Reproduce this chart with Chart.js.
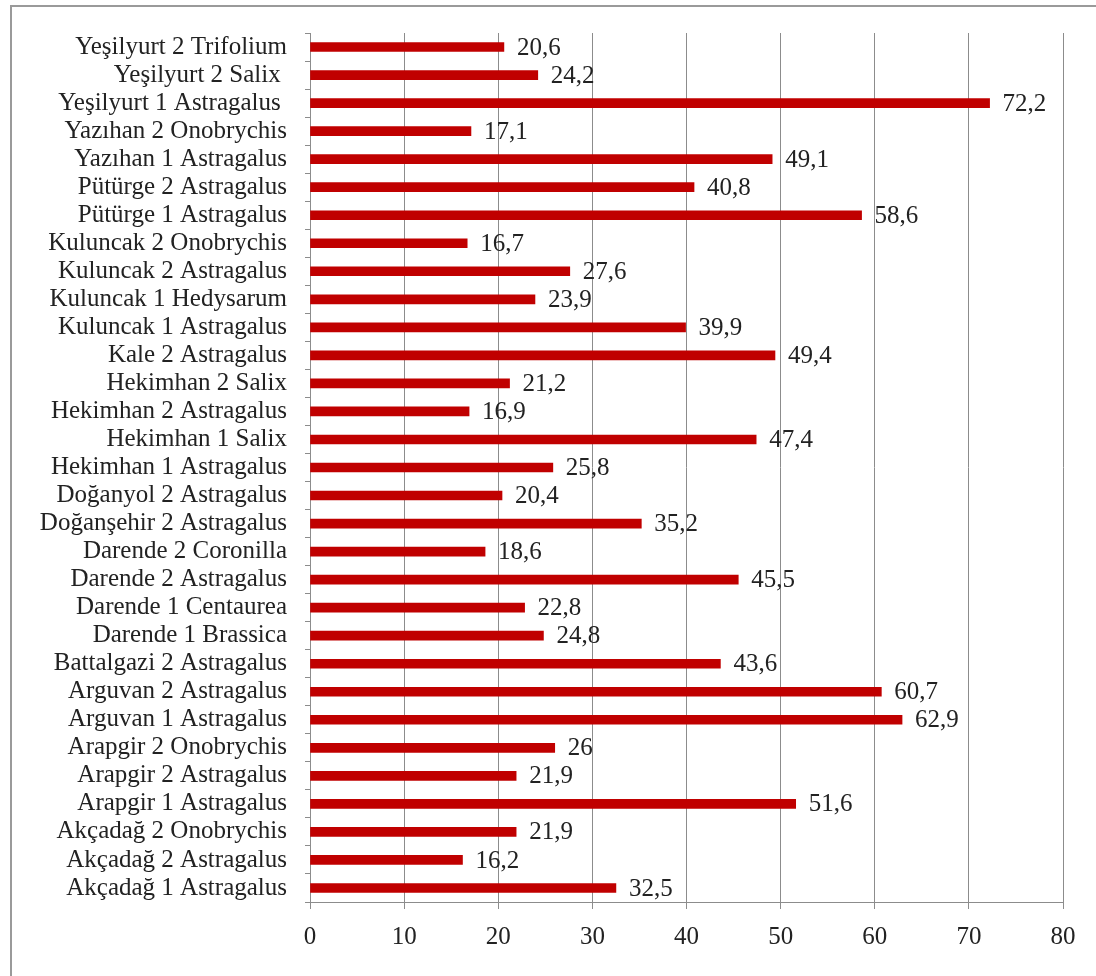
<!DOCTYPE html>
<html>
<head>
<meta charset="utf-8">
<script src="https://cdn.jsdelivr.net/npm/chart.js@4.4.1/dist/chart.umd.min.js"></script>
<style>
  html, body { margin: 0; padding: 0; background: #fff; }
  canvas { display: block; }
</style>
</head>
<body>
<canvas id="grafico" width="1096" height="976"></canvas>
<script>
// lokasyon + bitki, yukaridan asagiya
const lokasyonlar = [
    'Yeşilyurt 2 Trifolium', 'Yeşilyurt 2 Salix ', 'Yeşilyurt 1 Astragalus ',
    'Yazıhan 2 Onobrychis', 'Yazıhan 1 Astragalus', 'Pütürge 2 Astragalus',
    'Pütürge 1 Astragalus', 'Kuluncak 2 Onobrychis', 'Kuluncak 2 Astragalus',
    'Kuluncak 1 Hedysarum', 'Kuluncak 1 Astragalus', 'Kale 2 Astragalus',
    'Hekimhan 2 Salix', 'Hekimhan 2 Astragalus', 'Hekimhan 1 Salix',
    'Hekimhan 1 Astragalus', 'Doğanyol 2 Astragalus', 'Doğanşehir 2 Astragalus',
    'Darende 2 Coronilla', 'Darende 2 Astragalus', 'Darende 1 Centaurea',
    'Darende 1 Brassica', 'Battalgazi 2 Astragalus', 'Arguvan 2 Astragalus',
    'Arguvan 1 Astragalus', 'Arapgir 2 Onobrychis', 'Arapgir 2 Astragalus',
    'Arapgir 1 Astragalus', 'Akçadağ 2 Onobrychis', 'Akçadağ 2 Astragalus',
    'Akçadağ 1 Astragalus'
];

const degerler = [
    20.6, 24.2, 72.2, 17.1, 49.1, 40.8, 58.6, 16.7, 27.6, 23.9, 39.9,
    49.4, 21.2, 16.9, 47.4, 25.8, 20.4, 35.2, 18.6, 45.5, 22.8, 24.8,
    43.6, 60.7, 62.9, 26, 21.9, 51.6, 21.9, 16.2, 32.5
];

const eksenMin = 0;
const eksenMax = 80;
const eksenAdim = 10;

const yazi = "'Liberation Serif', 'Times New Roman', serif";
const yaziBoyu = 25;
const griCizgi = '#8c8c8c';

// cubuk sonuna deger yazisi (virgullu)
const degerYazisi = {
    id: 'degerYazisi',
    afterDatasetsDraw(chart) {
        const ctx = chart.ctx;
        const meta = chart.getDatasetMeta(0);
        ctx.save();
        ctx.font = yaziBoyu + 'px ' + yazi;
        ctx.fillStyle = '#222';
        ctx.textAlign = 'left';
        ctx.textBaseline = 'middle';
        meta.data.forEach((bar, i) => {
            const metin = String(degerler[i]).replace('.', ',');
            ctx.fillText(metin, bar.x + 13, bar.y + 1);
        });
        ctx.restore();
    }
};

// dis cerceve
const cerceve = {
    id: 'cerceve',
    beforeDraw(chart) {
        const ctx = chart.ctx;
        ctx.save();
        ctx.strokeStyle = '#9a9a9a';
        ctx.lineWidth = 2;
        ctx.beginPath();
        ctx.moveTo(11, 976);
        ctx.lineTo(11, 6);
        ctx.lineTo(1096, 6);
        ctx.stroke();
        ctx.restore();
    }
};

const ctx = document.getElementById('grafico').getContext('2d');
new Chart(ctx, {
    type: 'bar',
    data: {
        labels: lokasyonlar,
        datasets: [{
            data: degerler,
            backgroundColor: '#c00000',
            borderWidth: 0,
            barThickness: 9
        }]
    },
    options: {
        indexAxis: 'y',
        responsive: false,
        animation: false,
        layout: { padding: { top: 28, right: 33, left: 0, bottom: 0 } },
        plugins: {
            legend: { display: false },
            tooltip: { enabled: false }
        },
        scales: {
            x: {
                min: eksenMin,
                max: eksenMax,
                ticks: {
                    stepSize: eksenAdim,
                    color: '#222',
                    font: { family: yazi, size: yaziBoyu },
                    padding: 13
                },
                grid: {
                    color: griCizgi,
                    tickColor: griCizgi,
                    tickLength: 7
                },
                border: { color: griCizgi },
                afterFit(scale) { scale.height = 74; }
            },
            y: {
                ticks: {
                    color: '#222',
                    font: { family: yazi, size: yaziBoyu },
                    padding: 18,
                    autoSkip: false
                },
                grid: {
                    drawOnChartArea: false,
                    tickColor: griCizgi,
                    tickLength: 5
                },
                border: { color: griCizgi },
                afterFit(scale) { scale.width = 310; }
            }
        }
    },
    plugins: [cerceve, degerYazisi]
});
</script>
</body>
</html>
